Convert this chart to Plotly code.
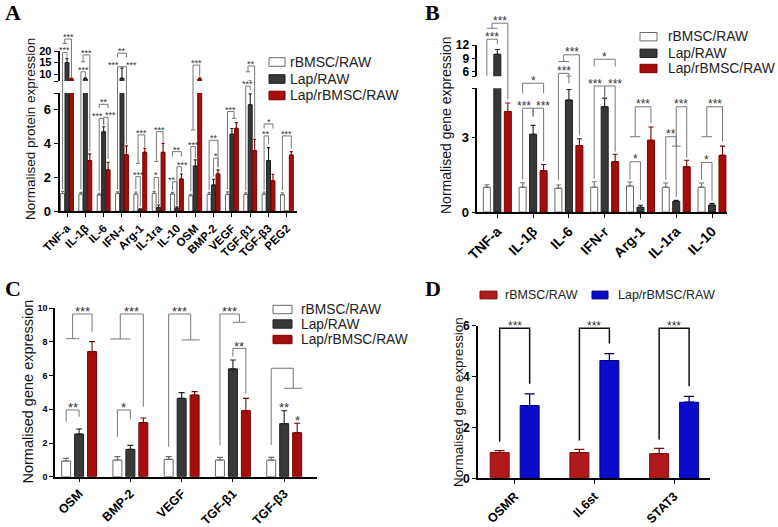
import plotly.graph_objects as go

# ---------------- data ----------------
SERIES = ['rBMSC/RAW', 'Lap/RAW', 'Lap/rBMSC/RAW']
D_SERIES = ['rBMSC/RAW', 'Lap/rBMSC/RAW']

A_cats = ['TNF-a', 'IL-1β', 'IL-6', 'IFN-r', 'Arg-1', 'IL-1ra', 'IL-10', 'OSM', 'BMP-2', 'VEGF', 'TGF-β1', 'TGF-β3', 'PEG2']
A_ctrl = [1.05, 1.02, 0.97, 1.05, 1.02, 1.06, 1.02, 0.93, 1.0, 1.0, 1.0, 1.02, 0.98]
A_ctrl_err = [0.12, 0.1, 0.1, 0.1, 0.12, 0.12, 0.1, 0.08, 0.12, 0.15, 0.1, 0.12, 0.12]
A_lap = [15.0, 7.9, 4.7, 8.2, 0.12, 0.22, 0.18, 2.68, 1.56, 4.56, 6.3, 3.0, 0.0]
A_lap_err = [1.7, 0.5, 0.3, 4.4, 0.03, 0.15, 0.08, 0.36, 0.34, 0.34, 0.65, 0.77, 0.0]
A_lrb = [7.8, 3.0, 2.45, 3.35, 3.49, 3.49, 1.91, 7.8, 2.21, 4.91, 3.59, 1.8, 3.33]
A_lrb_err = [0.5, 0.4, 0.45, 0.52, 0.24, 0.53, 0.3, 0.6, 0.24, 0.34, 0.67, 0.39, 0.2]

B_cats = ['TNF-a', 'IL-1β', 'IL-6', 'IFN-r', 'Arg-1', 'IL-1ra', 'IL-10']
B_ctrl = [1.0, 1.0, 0.96, 1.0, 1.05, 1.0, 1.0]
B_ctrl_err = [0.1, 0.18, 0.13, 0.22, 0.16, 0.17, 0.17]
B_lap = [9.9, 3.14, 4.52, 4.25, 0.19, 0.43, 0.28]
B_lap_err = [1.1, 0.36, 0.43, 0.35, 0.08, 0.04, 0.07]
B_lrb = [4.06, 1.67, 2.68, 2.03, 2.9, 1.83, 2.29]
B_lrb_err = [0.34, 0.25, 0.28, 0.3, 0.53, 0.26, 0.37]

C_cats = ['OSM', 'BMP-2', 'VEGF', 'TGF-β1', 'TGF-β3']
C_ctrl = [0.93, 0.99, 1.03, 0.99, 0.99]
C_ctrl_err = [0.16, 0.2, 0.16, 0.16, 0.16]
C_lap = [2.53, 1.62, 4.65, 6.4, 3.15]
C_lap_err = [0.3, 0.24, 0.34, 0.53, 0.77]
C_lrb = [7.43, 3.21, 4.85, 3.92, 2.61]
C_lrb_err = [0.59, 0.28, 0.2, 0.73, 0.56]

D_cats = ['OSMR', 'IL6st', 'STAT3']
D_ctrl = [1.01, 1.01, 0.97]
D_ctrl_err = [0.08, 0.13, 0.21]
D_lrb = [2.86, 4.63, 2.99]
D_lrb_err = [0.46, 0.27, 0.23]

# ---------------- geometry / style ----------------
W, H = 778, 527
FONT = "Liberation Sans, Arial, sans-serif"
SERIF = "Liberation Serif, Times New Roman, serif"

FILL = ['#ffffff', '#383838', '#a50d0d']
EDGE = ['#6a6a6a', '#1e1e1e', '#7a0000']
ECOL = ['#6a6a6a', '#1e1e1e', '#7a0000']
D_FILL = ['#b11a1a', '#0b0bcc']
D_EDGE = ['#7a0c0c', '#000080']


def PX(p):
    return p / W


def PY(p):
    return 1 - p / H


GEOM = {
    'A': dict(xp=(59.5, 297.3), xr=(-0.41, 12.57), lo=(211.3, 93.0, 0, 7), up=(81.0, 51.0, 7, 20)),
    'B': dict(xp=(477.3, 726.7), xr=(-0.56, 6.41), lo=(212.0, 88.2, 0, 5), up=(76.2, 45.0, 5, 12)),
    'C': dict(xp=(55.0, 317.0), xr=(-0.47, 4.64), lo=(476.7, 308.3, 0, 10)),
    'D': dict(xp=(478.0, 710.0), xr=(-0.46, 2.45), lo=(478.3, 325.7, 0, 6)),
}
OFF = {'A': 0.243, 'B': 0.293, 'C': 0.253}
BW = {'A': 0.215, 'B': 0.196, 'C': 0.175}
CAP = {'A': 1.5, 'B': 2.5, 'C': 3.0}
KIDX = {'w': -1, 'd': 0, 'r': 1}


def xpaper(p, v):
    g = GEOM[p]
    (a, b), (r0, r1) = g['xp'], g['xr']
    return PX(a + (v - r0) / (r1 - r0) * (b - a))


def ypaper(p, v, seg='lo'):
    pb, pt, v0, v1 = GEOM[p][seg]
    return PY(pb + (v - v0) / (v1 - v0) * (pt - pb))


def bx(p, i, k):
    return i + KIDX[k] * OFF[p]


fig = go.Figure()


def add_group(p, series, xa, yas):
    for s, (vals, errs) in enumerate(series):
        for ya in yas:
            fig.add_trace(go.Bar(
                x=list(range(len(vals))), y=vals,
                offset=(s - 1) * OFF[p] - BW[p] / 2, width=BW[p],
                marker=dict(color=FILL[s], line=dict(color=EDGE[s], width=1)),
                error_y=dict(type='data', array=errs, arrayminus=[0] * len(errs), symmetric=False,
                             color=ECOL[s], thickness=1.1, width=CAP[p]),
                xaxis=xa, yaxis=ya, showlegend=False, hoverinfo='skip'))


add_group('A', [(A_ctrl, A_ctrl_err), (A_lap, A_lap_err), (A_lrb, A_lrb_err)], 'x', ['y', 'y2'])
add_group('B', [(B_ctrl, B_ctrl_err), (B_lap, B_lap_err), (B_lrb, B_lrb_err)], 'x2', ['y3', 'y4'])
add_group('C', [(C_ctrl, C_ctrl_err), (C_lap, C_lap_err), (C_lrb, C_lrb_err)], 'x3', ['y5'])

D_OFF, D_BW = 0.188, 0.238
for s, (vals, errs) in enumerate([(D_ctrl, D_ctrl_err), (D_lrb, D_lrb_err)]):
    fig.add_trace(go.Bar(
        x=list(range(len(vals))), y=vals,
        offset=(2 * s - 1) * D_OFF - D_BW / 2, width=D_BW,
        marker=dict(color=D_FILL[s], line=dict(color=D_EDGE[s], width=1)),
        error_y=dict(type='data', array=errs, arrayminus=[0] * len(errs), symmetric=False,
                     color=D_EDGE[s], thickness=1.3, width=5),
        xaxis='x4', yaxis='y6', showlegend=False, hoverinfo='skip'))

# ---------------- significance brackets ----------------
shapes, annots = [], []
LINE = {'A': ('#777777', 1), 'B': ('#777777', 1), 'C': ('#777777', 1), 'D': ('#111111', 1.5)}
STAR = {'A': 9, 'B': 12, 'C': 13, 'D': 12}


def add_path(d, p):
    c, w = LINE[p]
    shapes.append(dict(type='path', path=d, xref='paper', yref='paper', line=dict(color=c, width=w)))


def star(p, x, y, text, dx=0):
    fs = STAR[p]
    annots.append(dict(x=x, y=y, xref='paper', yref='paper', text=text, showarrow=False,
                       xanchor='center', yanchor='bottom', xshift=dx, yshift=-0.55 * fs,
                       font=dict(size=fs, family=FONT, color='#333333')))


def brk(p, x1, x2, yh, y1, y2, label, dx=0):
    X1, X2 = xpaper(p, x1), xpaper(p, x2)
    add_path(f"M{X1},{y1} L{X1},{yh} L{X2},{yh} L{X2},{y2}", p)
    if label:
        star(p, (X1 + X2) / 2, yh, label, dx)


def gbr(p, xa, xb, xc, ysub, yh, yc, label):
    XA, XB, XC = xpaper(p, xa), xpaper(p, xb), xpaper(p, xc)
    M = (XA + XB) / 2
    add_path(f"M{XA},{ysub} L{XB},{ysub} M{M},{ysub} L{M},{yh} L{XC},{yh} L{XC},{yc}", p)
    if label:
        star(p, (M + XC) / 2, yh, label)


def rgbr(p, xa, xb, xc, ya, yh, ysub, label):
    XA, XB, XC = xpaper(p, xa), xpaper(p, xb), xpaper(p, xc)
    M = (XB + XC) / 2
    add_path(f"M{XA},{ya} L{XA},{yh} L{M},{yh} L{M},{ysub} M{XB},{ysub} L{XC},{ysub}", p)
    if label:
        star(p, (XA + M) / 2, yh, label)


# Panel A
L = lambda v: ypaper('A', v, 'lo')
U = lambda v: ypaper('A', v, 'up')
b = lambda i, k: bx('A', i, k)
brk('A', b(0, 'w'), b(0, 'd'), U(19.4), L(1.3), U(17.2), '***')
gbr('A', b(0, 'w'), b(0, 'd'), b(0, 'r'), U(23.3), U(25.2), U(8.6), '***')
brk('A', b(1, 'w'), b(1, 'd'), U(11.0), L(1.3), U(8.8), '***')
gbr('A', b(1, 'w'), b(1, 'd'), b(1, 'r'), U(15.3), U(18.3), L(3.55), '***')
brk('A', b(2, 'w'), b(2, 'r'), L(6.33), L(6.1), L(6.1), '**')
brk('A', b(2, 'w'), b(2, 'd'), L(5.5), L(1.2), L(5.1), '***', dx=-4)
brk('A', b(2, 'd'), b(2, 'r'), L(5.56), L(5.1), L(3.1), '***', dx=5)
brk('A', b(3, 'w'), b(3, 'r'), U(19.0), U(17.2), U(17.2), '**')
brk('A', b(3, 'w'), b(3, 'd'), U(13.2), L(1.3), U(12.8), '***', dx=-6)
brk('A', b(3, 'd'), b(3, 'r'), U(13.2), U(12.8), L(4.0), '***', dx=7)
brk('A', b(4, 'w'), b(4, 'd'), L(2.05), L(1.3), L(0.3), '***')
gbr('A', b(4, 'w'), b(4, 'd'), b(4, 'r'), L(2.84), L(4.52), L(3.8), '***')
brk('A', b(5, 'w'), b(5, 'd'), L(2.0), L(1.3), L(0.45), '*')
gbr('A', b(5, 'w'), b(5, 'd'), b(5, 'r'), L(2.94), L(4.71), L(4.1), '***')
brk('A', b(6, 'w'), b(6, 'd'), L(1.75), L(1.25), L(0.35), '**', dx=-3)
brk('A', b(6, 'd'), b(6, 'r'), L(2.64), L(0.35), L(2.3), '***', dx=3)
brk('A', b(6, 'w'), b(6, 'r'), L(3.53), L(3.25), L(3.25), '**')
brk('A', b(7, 'w'), b(7, 'd'), L(3.83), L(1.2), L(3.14), '***')
gbr('A', b(7, 'w'), b(7, 'd'), b(7, 'r'), L(4.81), U(13.9), U(9.0), '***')
brk('A', b(8, 'w'), b(8, 'r'), L(4.2), L(1.25), L(2.6), '**')
brk('A', b(8, 'd'), b(8, 'r'), L(3.14), L(2.05), L(2.64), '*')
rgbr('A', b(9, 'w'), b(9, 'd'), b(9, 'r'), L(1.3), L(5.9), L(5.5), '***')
brk('A', b(10, 'w'), b(10, 'd'), L(7.4), L(1.25), L(7.15), '***')
gbr('A', b(10, 'w'), b(10, 'd'), b(10, 'r'), U(11.0), U(13.5), L(4.3), '**')
brk('A', b(11, 'w'), b(11, 'd'), L(4.46), L(1.25), L(3.95), '**')
brk('A', b(11, 'w'), b(11, 'r'), L(5.17), L(4.9), L(4.9), '*')
brk('A', b(12, 'w'), b(12, 'r'), L(4.46), L(1.25), L(3.72), '***')

# Panel B
L = lambda v: ypaper('B', v, 'lo')
U = lambda v: ypaper('B', v, 'up')
b = lambda i, k: bx('B', i, k)
brk('B', b(0, 'w'), b(0, 'd'), U(13.3), U(5.0), U(12.2), '***')
gbr('B', b(0, 'w'), b(0, 'd'), b(0, 'r'), U(15.75), U(16.9), L(4.55), '***')
brk('B', b(1, 'w'), b(1, 'd'), L(4.19), L(1.3), L(3.85), '***', dx=-4)
brk('B', b(1, 'd'), b(1, 'r'), L(4.19), L(3.85), L(2.05), '***', dx=5)
brk('B', b(1, 'w'), b(1, 'r'), L(5.2), L(4.8), L(4.8), '*')
brk('B', b(2, 'w'), b(2, 'd'), L(5.6), L(1.3), L(5.2), '***')
gbr('B', b(2, 'w'), b(2, 'd'), b(2, 'r'), U(8.3), U(9.8), L(3.1), '***')
brk('B', b(3, 'w'), b(3, 'd'), L(5.09), L(1.35), L(4.66), '***', dx=-4)
brk('B', b(3, 'd'), b(3, 'r'), L(5.09), L(4.66), L(2.44), '***', dx=5)
brk('B', b(3, 'w'), b(3, 'r'), U(8.8), U(7.2), U(7.2), '*')
brk('B', b(4, 'w'), b(4, 'd'), L(2.03), L(1.3), L(0.48), '*')
gbr('B', b(4, 'w'), b(4, 'd'), b(4, 'r'), L(3.04), L(4.25), L(3.58), '***')
brk('B', b(5, 'w'), b(5, 'd'), L(3.04), L(1.3), L(0.6), '**')
gbr('B', b(5, 'd') - 0.12, b(5, 'd') + 0.12, b(5, 'r'), L(2.66), L(4.25), L(2.2), '***')
brk('B', b(6, 'w'), b(6, 'd'), L(2.0), L(1.3), L(0.45), '*')
gbr('B', b(6, 'w'), b(6, 'd'), b(6, 'r'), L(3.04), L(4.25), L(2.85), '***')

# Panel C
L = lambda v: ypaper('C', v)
b = lambda i, k: bx('C', i, k)
brk('C', b(0, 'w'), b(0, 'd'), L(3.96), L(3.27), L(3.56), '**')
gbr('C', b(0, 'w'), b(0, 'd'), b(0, 'r'), L(8.2), L(9.66), L(8.6), '***')
brk('C', b(1, 'w'), b(1, 'd'), L(3.96), L(2.37), L(3.4), '*')
gbr('C', b(1, 'w') - 0.14, b(1, 'd'), b(1, 'r'), L(8.18), L(9.66), L(4.16), '***')
rgbr('C', b(2, 'w'), b(2, 'd'), b(2, 'r') + 0.1, L(1.78), L(9.66), L(8.12), '***')
rgbr('C', b(3, 'w'), b(3, 'd'), b(3, 'r'), L(1.88), L(9.66), L(9.17), '***')
brk('C', b(3, 'd'), b(3, 'r'), L(7.62), L(7.13), L(4.95), '**')
rgbr('C', b(4, 'w'), b(4, 'd'), b(4, 'r') + 0.1, L(1.88), L(6.44), L(5.25), '')
star('C', xpaper('C', b(4, 'd')), L(C_lap[4] + C_lap_err[4] + 0.05), '**')
star('C', xpaper('C', b(4, 'r')), L(C_lrb[4] + C_lrb_err[4] + 0.05), '*')

# Panel D
L = lambda v: ypaper('D', v)
for i in range(len(D_cats)):
    brk('D', i - D_OFF, i + D_OFF, L(5.9), L(D_ctrl[i] + D_ctrl_err[i] + 0.35),
        L(D_lrb[i] + D_lrb_err[i] + 0.4), '***')

# ---------------- legends (drawn) ----------------
def legend_rows(x0, x1, xt, rows, hh, labels, fills, edges, fs):
    for yc, lab, f, e in zip(rows, labels, fills, edges):
        shapes.append(dict(type='rect', xref='paper', yref='paper', x0=PX(x0), x1=PX(x1),
                           y0=PY(yc + hh), y1=PY(yc - hh), fillcolor=f, line=dict(color=e, width=1)))
        annots.append(dict(x=PX(xt), y=PY(yc), xref='paper', yref='paper', text=lab, showarrow=False,
                           xanchor='left', yanchor='middle', borderpad=0,
                           font=dict(size=fs, family=FONT, color='#222222')))


legend_rows(269, 285, 289, [62, 79, 95.5], 4.3, SERIES, FILL, EDGE, 14)
legend_rows(640, 657, 667, [36.7, 53.3, 68.5], 4.2, SERIES, FILL, EDGE, 13.8)
legend_rows(273, 292, 300, [309.5, 324, 339.5], 4.2, SERIES, FILL, EDGE, 13.8)
for (x0, x1, xt), lab, f, e in zip([(480, 497, 504), (592, 608, 617)], D_SERIES, D_FILL, D_EDGE):
    legend_rows(x0, x1, xt, [295], 3.9, [lab], [f], [e], 12.5)

# ---------------- titles / panel letters ----------------
for letter, (px, py) in zip('ABCD', [(3, 12), (423, 12), (3, 288), (423, 288)]):
    annots.append(dict(x=PX(px), y=PY(py), xref='paper', yref='paper', text=f'<b>{letter}</b>',
                       showarrow=False, xanchor='left', yanchor='middle',
                       font=dict(size=22, family=SERIF, color='black')))

for text, (px, py), fs in [('Normalised protein expression', (31, 129), 13.5),
                           ('Normalised gene expression', (446, 126), 14),
                           ('Normalised gene expression', (27.5, 392), 14.5),
                           ('Normalised gene expression', (458, 402), 13.4)]:
    annots.append(dict(x=PX(px), y=PY(py), xref='paper', yref='paper', text=text, textangle=-90,
                       showarrow=False, xanchor='center', yanchor='middle', borderpad=0,
                       font=dict(size=fs, family=FONT, color='#111111')))

# ---------------- axes ----------------
def xaxis_cfg(p, cats, anchor, fs, tlen=4):
    g = GEOM[p]
    return dict(domain=[PX(g['xp'][0]), PX(g['xp'][1])], range=list(g['xr']), anchor=anchor,
                automargin=False, tickmode='array', tickvals=list(range(len(cats))), ticktext=cats,
                tickangle=-45, showline=True, linecolor='black', linewidth=1.6, ticks='outside', ticklen=tlen,
                tickwidth=1.4, tickcolor='black', showgrid=False, zeroline=False, fixedrange=True,
                tickfont=dict(size=fs, family=FONT, color='black', weight='bold'))


def yaxis_cfg(p, seg, anchor, tickvals, ticktext, fs):
    pb, pt, v0, v1 = GEOM[p][seg]
    return dict(domain=[PY(pb), PY(pt)], range=[v0, v1], anchor=anchor, automargin=False,
                tickmode='array', tickvals=tickvals, ticktext=ticktext, showline=True, linecolor='black',
                linewidth=1.6, ticks='outside', ticklen=4, tickwidth=1.4, tickcolor='black',
                showgrid=False, zeroline=False, fixedrange=True,
                tickfont=dict(size=fs, family=FONT, color='black', weight='bold'))


fig.update_layout(
    template='none',
    width=W, height=H, margin=dict(l=0, r=0, t=0, b=0, pad=0, autoexpand=False),
    paper_bgcolor='white', plot_bgcolor='rgba(0,0,0,0)', barmode='overlay', showlegend=False,
    font=dict(family=FONT, color='black'),
    xaxis=xaxis_cfg('A', A_cats, 'y', 11.5),
    yaxis=yaxis_cfg('A', 'lo', 'x', [0, 2, 4, 6, 7], ['0', '2', '4', '6', ''], 13),
    yaxis2=yaxis_cfg('A', 'up', 'x', [7, 10, 15, 20], ['', '10', '15', '20'], 11),
    xaxis2=xaxis_cfg('B', B_cats, 'y3', 14),
    yaxis3=yaxis_cfg('B', 'lo', 'x2', [0, 3, 5], ['0', '3', ''], 13),
    yaxis4=yaxis_cfg('B', 'up', 'x2', [5, 6, 9, 12], ['', '6', '9', '12'], 12),
    xaxis3=xaxis_cfg('C', C_cats, 'y5', 12.5, tlen=3),
    yaxis5=yaxis_cfg('C', 'lo', 'x3', [0, 2, 4, 6, 8, 10], ['0', '2', '4', '6', '8', '10'], 9),
    xaxis4=xaxis_cfg('D', D_cats, 'y6', 12.5),
    yaxis6=yaxis_cfg('D', 'lo', 'x4', [0, 2, 4, 6], ['0', '2', '4', '6'], 12),
    shapes=shapes, annotations=annots,
)

fig.write_html("out.html", config={'displayModeBar': False},
               post_script="document.body.style.margin='0';document.body.style.overflow='hidden';")
